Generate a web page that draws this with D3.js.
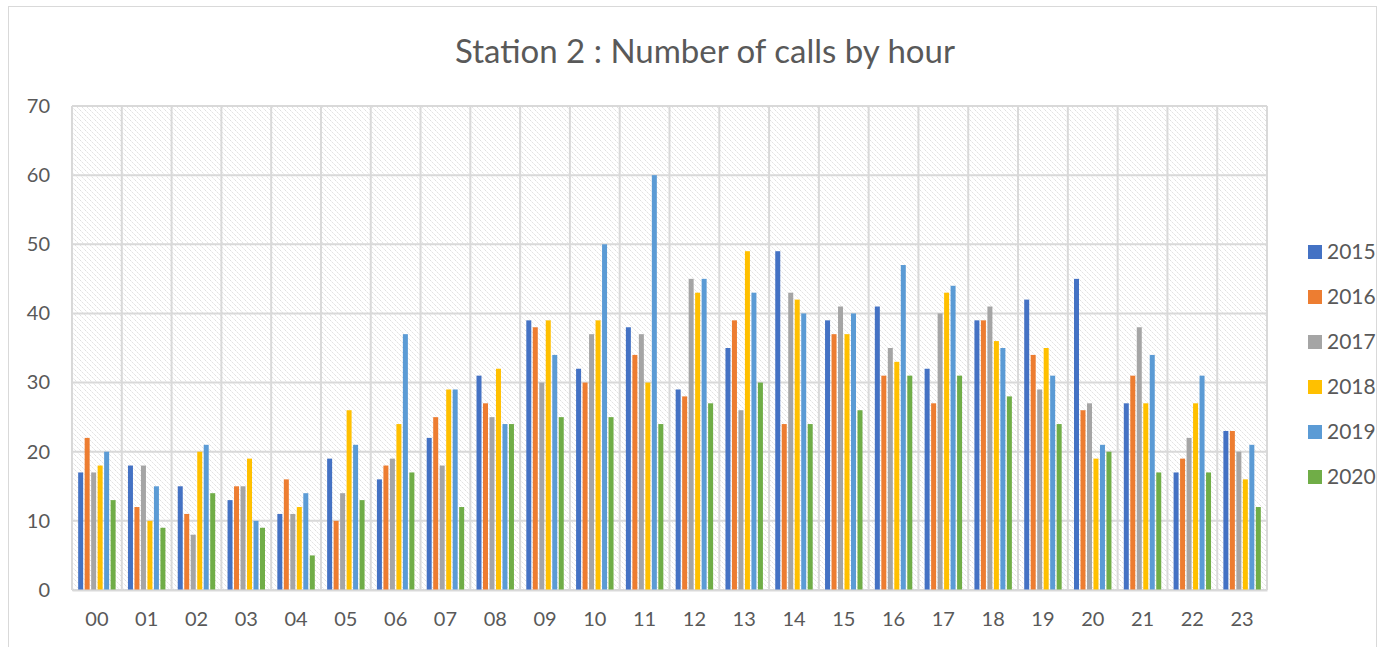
<!DOCTYPE html>
<html>
<head>
<meta charset="utf-8">
<script src="https://cdn.jsdelivr.net/npm/d3@7"></script>
<style>
  body { margin: 0; background: #fff; }
  svg text { font-family: Lato, "Open Sans", sans-serif; fill: #595959; }
</style>
</head>
<body>
<div id="chart"></div>
<script>
// Hours along the x axis
const hours = ['00','01','02','03','04','05','06','07','08','09','10','11',
               '12','13','14','15','16','17','18','19','20','21','22','23'];
const years = ['2015','2016','2017','2018','2019','2020'];
const colors = ['#4472C4','#ED7D31','#A5A5A5','#FFC000','#5B9BD5','#70AD47'];

// calls per hour, one array per year
const calls2015 = [17,18,15,13,11,19,16,22,31,39,32,38,29,35,49,39,41,32,39,42,45,27,17,23];
const calls2016 = [22,12,11,15,16,10,18,25,27,38,30,34,28,39,24,37,31,27,39,34,26,31,19,23];
const calls2017 = [17,18, 8,15,11,14,19,18,25,30,37,37,45,26,43,41,35,40,41,29,27,38,22,20];
const calls2018 = [18,10,20,19,12,26,24,29,32,39,39,30,43,49,42,37,33,43,36,35,19,27,27,16];
const calls2019 = [20,15,21,10,14,21,37,29,24,34,50,60,45,43,40,40,47,44,35,31,21,34,31,21];
const calls2020 = [13, 9,14, 9, 5,13,17,12,24,25,25,24,27,30,24,26,31,31,28,24,20,17,17,12];
const series = [calls2015, calls2016, calls2017, calls2018, calls2019, calls2020];

const yTicks = [0,10,20,30,40,50,60,70];

const width = 1384, height = 647;
const plot = { left: 72, right: 1267, top: 106, bottom: 590 };

const svg = d3.select('#chart').append('svg')
  .attr('width', width)
  .attr('height', height);

// hatched plot background
const pat = svg.append('defs').append('pattern')
  .attr('id', 'hatch')
  .attr('patternUnits', 'userSpaceOnUse')
  .attr('width', 5).attr('height', 5);
pat.append('rect').attr('width', 5).attr('height', 5).attr('fill', '#fff');
pat.append('path')
  .attr('d', 'M0,0L5,5M-1,4L1,6M4,-1L6,1')
  .attr('stroke', '#dcdcdc')
  .attr('stroke-width', 0.9)
  .attr('stroke-dasharray', '2,1');

// chart border
svg.append('rect')
  .attr('x', 8.5).attr('y', 6.5)
  .attr('width', 1368).attr('height', 660)
  .attr('fill', 'none')
  .attr('stroke', '#d9d9d9');

svg.append('text')
  .attr('x', 705).attr('y', 63)
  .attr('text-anchor', 'middle')
  .attr('font-size', 33)
  .text('Station 2 : Number of calls by hour');

const x0 = d3.scaleBand()
  .domain(hours)
  .range([plot.left, plot.right])
  .padding(0);

const x1 = d3.scaleBand()
  .domain(years)
  .range([0, x0.bandwidth()])
  .paddingInner(0.23)
  .paddingOuter(0.95);

const y = d3.scaleLinear()
  .domain([0, 70])
  .range([plot.bottom, plot.top]);

svg.append('rect')
  .attr('x', plot.left).attr('y', plot.top)
  .attr('width', plot.right - plot.left)
  .attr('height', plot.bottom - plot.top)
  .attr('fill', 'url(#hatch)');

// gridlines
const grid = svg.append('g')
  .attr('stroke', '#d9d9d9')
  .attr('stroke-width', 2);

grid.selectAll('line.h')
  .data(yTicks)
  .join('line')
  .attr('class', 'h')
  .attr('x1', plot.left).attr('x2', plot.right)
  .attr('y1', d => y(d)).attr('y2', d => y(d));

grid.selectAll('line.v')
  .data(hours.concat(['end']))
  .join('line')
  .attr('class', 'v')
  .attr('x1', (d, i) => plot.left + i * x0.bandwidth())
  .attr('x2', (d, i) => plot.left + i * x0.bandwidth())
  .attr('y1', plot.top).attr('y2', plot.bottom);

// bars
const groups = svg.append('g')
  .selectAll('g')
  .data(hours)
  .join('g')
  .attr('transform', d => `translate(${x0(d)},0)`);

groups.selectAll('rect')
  .data((h, i) => years.map((yr, k) => ({ year: yr, k, value: series[k][i] })))
  .join('rect')
  .attr('x', d => x1(d.year))
  .attr('width', x1.bandwidth())
  .attr('y', d => y(d.value))
  .attr('height', d => y(0) - y(d.value))
  .attr('fill', d => colors[d.k]);

// axes
const yAxis = svg.append('g')
  .attr('transform', `translate(${plot.left},0)`)
  .call(d3.axisLeft(y).tickValues(yTicks).tickSize(0).tickPadding(22));
yAxis.select('.domain').remove();
yAxis.selectAll('text').attr('font-size', 20).attr('fill', '#595959')
  .style('font-family', 'Lato, sans-serif');

const xAxis = svg.append('g')
  .attr('transform', `translate(0,${plot.bottom})`)
  .call(d3.axisBottom(x0).tickSize(0).tickPadding(22));
xAxis.select('.domain').attr('stroke', '#d9d9d9').attr('stroke-width', 2);
xAxis.selectAll('text').attr('font-size', 20).attr('fill', '#595959')
  .style('font-family', 'Lato, sans-serif');

// legend
const legend = svg.append('g')
  .selectAll('g')
  .data(years)
  .join('g')
  .attr('transform', (d, i) => `translate(1308,${245 + i * 45})`);

legend.append('rect')
  .attr('width', 14).attr('height', 14)
  .attr('fill', (d, i) => colors[i]);

legend.append('text')
  .attr('x', 19).attr('y', 14)
  .attr('font-size', 21)
  .text(d => d);
</script>
</body>
</html>
